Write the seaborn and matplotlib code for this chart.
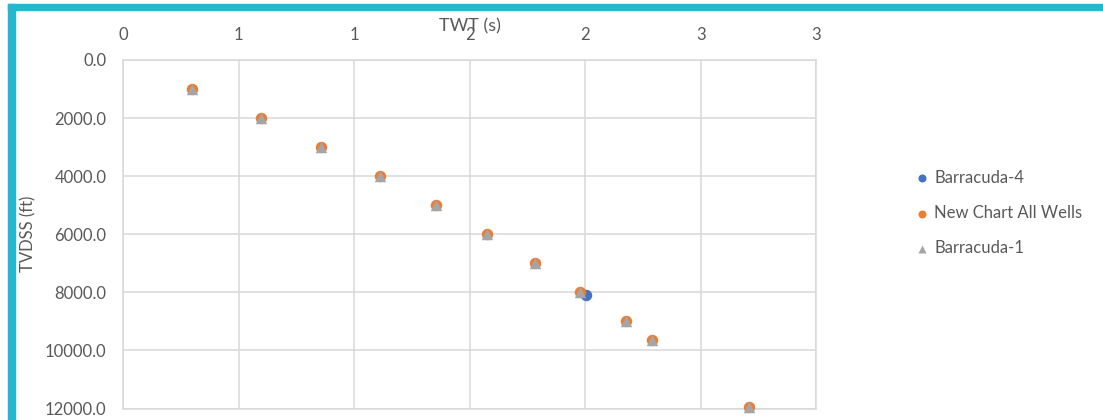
import math
import matplotlib
matplotlib.use("Agg")
import matplotlib.pyplot as plt
from matplotlib.patches import Rectangle
from matplotlib.ticker import FuncFormatter
import seaborn as sns
import pandas as pd

# Time-depth pairs (two-way time in seconds, TVDSS in feet)
twt_all = [0.30, 0.595, 0.855, 1.11, 1.352, 1.573, 1.782, 1.976, 2.174, 2.289, 2.709]
tvdss_all = [1000, 2000, 3000, 4000, 5000, 6000, 7000, 8000, 9000, 9640, 11940]

twt_b1 = [0.30, 0.595, 0.855, 1.11, 1.352, 1.573, 1.782, 1.976, 2.174, 2.289, 2.709]
tvdss_b1 = [1000, 2000, 3000, 4000, 5000, 6000, 7000, 8000, 9000, 9640, 11940]

twt_b4 = [2.002]
tvdss_b4 = [8100]

series_names = ["Barracuda-4", "New Chart All Wells", "Barracuda-1"]
x_ticks = [0, 0.5, 1.0, 1.5, 2.0, 2.5, 3.0]
y_ticks = [0, 2000, 4000, 6000, 8000, 10000, 12000]

sns.set_theme(style="white")
plt.rcParams["font.family"] = ["Lato", "DejaVu Sans"]

TEXT = "#595959"
GRID = "#D9D9D9"
FRAME = "#26B7CF"

W, H = 1103, 420
fig = plt.figure(figsize=(W / 100, H / 100), dpi=100)
ax = fig.add_axes([123 / W, 1 - 408.5 / H, (816.5 - 123) / W, (408.5 - 60) / H])

df_b4 = pd.DataFrame({"TWT": twt_b4, "TVDSS": tvdss_b4})
df_all = pd.DataFrame({"TWT": twt_all, "TVDSS": tvdss_all})
df_b1 = pd.DataFrame({"TWT": twt_b1, "TVDSS": tvdss_b1})

sns.scatterplot(data=df_b4, x="TWT", y="TVDSS", ax=ax, color="#4472C4", marker="o",
                s=68, linewidth=0, label=series_names[0], zorder=3, clip_on=False)
sns.scatterplot(data=df_all, x="TWT", y="TVDSS", ax=ax, color="#ED7D31", marker="o",
                s=68, linewidth=0, label=series_names[1], zorder=4, clip_on=False)
sns.scatterplot(data=df_b1, x="TWT", y="TVDSS", ax=ax, color="#A5A5A5", marker="^",
                s=68, linewidth=0, label=series_names[2], zorder=5, clip_on=False)

ax.set_xlim(0, 3.0)
ax.set_ylim(12000, 0)
ax.set_xticks(x_ticks)
ax.set_yticks(y_ticks)
# Whole-second labels, halves rounded up
ax.xaxis.set_major_formatter(FuncFormatter(lambda v, p: f"{math.floor(v + 0.5 + 1e-9):d}"))
ax.yaxis.set_major_formatter(FuncFormatter(lambda v, p: f"{v:.1f}"))
ax.xaxis.tick_top()
ax.tick_params(axis="x", length=0, pad=12.5, labelsize=12, labelcolor=TEXT)
ax.tick_params(axis="y", length=0, pad=12, labelsize=12, labelcolor=TEXT)

ax.grid(True, color=GRID, linewidth=1.1)
ax.set_axisbelow(True)
for sp in ax.spines.values():
    sp.set_color(GRID)
    sp.set_linewidth(1.1)

ax.set_xlabel("")
ax.set_ylabel("")
fig.text(470 / W, 1 - 26 / H, "TWT (s)", ha="center", va="center", fontsize=13, color=TEXT)
fig.text(28 / W, 1 - 234 / H, "TVDSS (ft)", ha="center", va="center", rotation=90,
         fontsize=12, color=TEXT)

handles, labels = ax.get_legend_handles_labels()
ax.get_legend().remove()
fig.legend(handles, labels, loc="center left", bbox_to_anchor=(904 / W, 1 - 213 / H),
           frameon=False, fontsize=12, labelcolor=TEXT, handletextpad=0.1,
           labelspacing=1.15, handlelength=1.2, markerscale=0.7, borderpad=0)

# Cyan frame along the top and left edges
fig.patches.append(Rectangle((8 / W, 1 - 9.5 / H), 1 - 8 / W, 5.5 / H, transform=fig.transFigure,
                             color=FRAME, zorder=10))
fig.patches.append(Rectangle((8 / W, 0), 6.5 / W, 1 - 4 / H, transform=fig.transFigure,
                             color=FRAME, zorder=10))

fig.savefig("out.png", dpi=100)
